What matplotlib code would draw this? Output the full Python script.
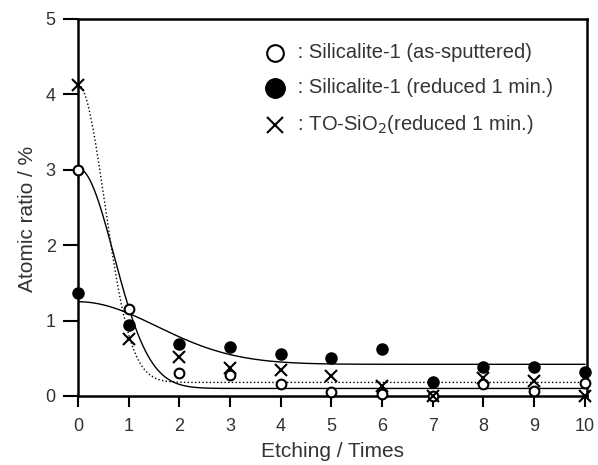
import numpy as np
from matplotlib import pyplot as plt

plt.rcParams['font.family'] = ['Liberation Sans', 'DejaVu Sans']

etching = [0, 1, 2, 3, 4, 5, 6, 7, 8, 9, 10]
sil_sputtered = [3.0, 1.16, 0.30, 0.28, 0.16, 0.05, 0.03, 0.0, 0.16, 0.07, 0.17]
sil_reduced = [1.36, 0.94, 0.69, 0.65, 0.56, 0.50, 0.62, 0.18, 0.38, 0.38, 0.32]
tosio2_reduced = [4.12, 0.75, 0.52, 0.37, 0.35, 0.27, 0.13, 0.0, 0.24, 0.20, 0.0]

# fitted curves: y = a * exp(-(x / w)^2) + c  (parameters)
fit_sputtered = (2.92, 1.0, 0.10)
fit_reduced = (0.83, 2.2, 0.42)
fit_tosio2 = (3.95, 0.74, 0.18)

legend_labels = [' : Silicalite-1 (as-sputtered)',
                 ' : Silicalite-1 (reduced 1 min.)',
                 ' : TO-SiO$_2$(reduced 1 min.)']

fig = plt.figure(figsize=(5.98, 4.65), dpi=100)
ax = fig.add_axes([0.1304, 0.1484, 0.851, 0.811])

xs = np.linspace(0, 10, 400)
for (a, w, c), style in [(fit_sputtered, '-'), (fit_reduced, '-'), (fit_tosio2, ':')]:
    ax.plot(xs, a * np.exp(-(xs / w) ** 2) + c, color='black', lw=1.0, linestyle=style)

ax.plot(etching, sil_sputtered, 'o', mfc='white', mec='black', mew=1.5, ms=7, clip_on=False, zorder=3)
ax.plot(etching, sil_reduced, 'o', mfc='black', mec='black', ms=8, clip_on=False, zorder=3)
ax.plot(etching, tosio2_reduced, 'x', color='black', mew=1.5, ms=8, clip_on=False, zorder=4)

# hand-made legend
leg_y = [0.910, 0.817, 0.719]
ax.plot(0.387, leg_y[0], 'o', mfc='white', mec='black', mew=1.5, ms=12, transform=ax.transAxes)
ax.plot(0.387, leg_y[1], 'o', mfc='black', mec='black', ms=14, transform=ax.transAxes)
ax.plot(0.387, leg_y[2], 'x', color='black', mew=1.5, ms=11, transform=ax.transAxes)
for yy, lab in zip(leg_y, legend_labels):
    ax.text(0.420, yy, lab, transform=ax.transAxes, fontsize=14.5, va='center', ha='left', color='#333333')

ax.set_xlim(0, 10.04)
ax.set_ylim(0, 5)
ax.set_xticks(range(0, 11))
ax.set_yticks(range(0, 6))
ax.set_xlabel('Etching / Times', fontsize=15, color='#333333', va='center')
ax.set_ylabel('Atomic ratio / %', fontsize=15, color='#333333', va='center')
ax.xaxis.set_label_coords(0.5, -0.1485)
ax.yaxis.set_label_coords(-0.100, 0.4695)
ax.tick_params(direction='out', width=1.5, labelsize=13, labelcolor='#333333',
               top=False, right=False)
ax.tick_params(axis='x', length=8, pad=8)
ax.tick_params(axis='y', length=11, pad=5)
for sp in ax.spines.values():
    sp.set_linewidth(1.8)

fig.savefig('out.png', dpi=100)
